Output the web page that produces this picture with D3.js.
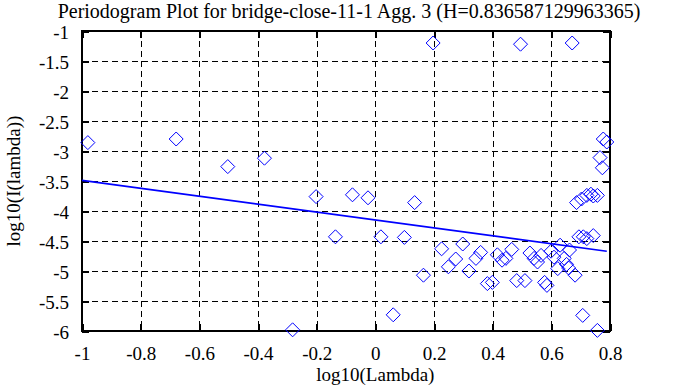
<!DOCTYPE html>
<html>
<head>
<meta charset="utf-8">
<script src="https://cdn.jsdelivr.net/npm/d3@7"></script>
<style>
  body { margin: 0; background: #fff; }
  svg { display: block; }
  .grid line { stroke: #000; stroke-width: 1; stroke-dasharray: 6,4; shape-rendering: crispEdges; }
  .axis path { display: none; }
  .axis line { stroke: #000; stroke-width: 2; shape-rendering: crispEdges; }
</style>
</head>
<body>
<svg id="chart" width="688" height="387"></svg>
<script>
// periodogram points: log10(lambda) vs log10(I(lambda))
const logLambda = [
  -0.980, -0.679, -0.503, -0.378, -0.282, -0.202, -0.136, -0.078, -0.025, 0.019,
  0.061, 0.099, 0.134, 0.164, 0.197, 0.226, 0.249, 0.274, 0.298, 0.319,
  0.343, 0.359, 0.382, 0.399, 0.416, 0.432, 0.445, 0.465, 0.482, 0.495,
  0.510, 0.527, 0.541, 0.553, 0.565, 0.577, 0.585, 0.599, 0.609, 0.622,
  0.630, 0.644, 0.652, 0.659, 0.662, 0.671, 0.681, 0.686, 0.694, 0.703,
  0.707, 0.709, 0.721, 0.721, 0.735, 0.743, 0.743, 0.757, 0.757, 0.766,
  0.774, 0.777, 0.789
];
const logPower = [
  -2.86, -2.80, -3.26, -3.12, -5.98, -3.76, -4.43, -3.73, -3.78, -4.43,
  -5.73, -4.44, -3.86, -5.07, -1.20, -4.63, -4.93, -4.80, -4.55, -5.00,
  -4.79, -4.69, -5.21, -5.19, -4.73, -4.82, -4.79, -4.64, -5.16, -1.22,
  -5.16, -4.70, -4.79, -4.85, -4.74, -5.19, -5.24, -4.67, -4.77, -4.96,
  -4.57, -4.79, -4.89, -4.95, -4.65, -1.20, -5.07, -3.86, -4.43, -3.80,
  -5.74, -4.43, -3.74, -4.46, -3.72, -3.75, -4.41, -3.74, -5.99, -3.11,
  -3.28, -2.80, -2.85
];
// least squares line (slope = 1 - 2H)
const fitX = [-1, 0.789];
const fitY = [-3.49, -4.67];

const xTicks = [-1, -0.8, -0.6, -0.4, -0.2, 0, 0.2, 0.4, 0.6, 0.8];
const yTicks = [-1, -1.5, -2, -2.5, -3, -3.5, -4, -4.5, -5, -5.5, -6];

const titleText = "Periodogram Plot for bridge-close-11-1 Agg. 3 (H=0.836587129963365)";
const xLabel = "log10(Lambda)";
const yLabel = "log10(I(lambda))";

const FONT = "'Liberation Serif', 'Times New Roman', Times, serif";
const margin = { left: 82, right: 78, top: 31, bottom: 56 };
const width = 688, height = 387;
const svg = d3.select("#chart").attr("font-family", FONT);

const x = d3.scaleLinear().domain([-1, 0.8]).range([margin.left, width - margin.right]);
const y = d3.scaleLinear().domain([-6, -1]).range([height - margin.bottom, margin.top]);

// dashed grid
const grid = svg.append("g").attr("class", "grid");
grid.selectAll(".gx").data(xTicks.slice(1, -1)).enter().append("line")
    .attr("x1", d => Math.round(x(d)) + 0.5).attr("x2", d => Math.round(x(d)) + 0.5)
    .attr("y1", y(-1)).attr("y2", y(-6));
grid.selectAll(".gy").data(yTicks.slice(1, -1)).enter().append("line")
    .attr("x1", x(-1)).attr("x2", x(0.8))
    .attr("y1", d => Math.round(y(d)) + 0.5).attr("y2", d => Math.round(y(d)) + 0.5);

// axes with inward ticks, mirrored on top and right
const fmt = d => String(d);
const styleAxis = g => g.attr("font-family", FONT).attr("font-size", 19)
    .selectAll("text").attr("fill", "#000");

svg.append("g").attr("class", "axis")
    .attr("transform", `translate(0, ${y(-6)})`)
    .call(d3.axisBottom(x).tickValues(xTicks).tickFormat(fmt).tickSizeInner(-7).tickSizeOuter(0).tickPadding(16))
    .call(styleAxis);
svg.append("g").attr("class", "axis")
    .attr("transform", `translate(0, ${y(-1)})`)
    .call(d3.axisTop(x).tickValues(xTicks).tickFormat("").tickSizeInner(-7).tickSizeOuter(0));
svg.append("g").attr("class", "axis")
    .attr("transform", `translate(${x(-1)}, 0)`)
    .call(d3.axisLeft(y).tickValues(yTicks).tickFormat(fmt).tickSizeInner(-7).tickSizeOuter(0).tickPadding(13))
    .call(styleAxis)
    .selectAll("text").attr("dy", "0.4em");
svg.append("g").attr("class", "axis")
    .attr("transform", `translate(${x(0.8)}, 0)`)
    .call(d3.axisRight(y).tickValues(yTicks).tickFormat("").tickSizeInner(-7).tickSizeOuter(0));

// border
svg.append("rect")
    .attr("x", x(-1)).attr("y", y(-1))
    .attr("width", x(0.8) - x(-1)).attr("height", y(-6) - y(-1))
    .attr("fill", "none").attr("stroke", "#000").attr("stroke-width", 2);

// fit line
svg.append("path")
    .datum(d3.zip(fitX, fitY))
    .attr("d", d3.line().x(d => x(d[0])).y(d => y(d[1])))
    .attr("fill", "none").attr("stroke", "#0000ff").attr("stroke-width", 1.6);

// diamonds
const r = 7;
svg.append("g").selectAll("path")
    .data(d3.zip(logLambda, logPower)).enter().append("path")
    .attr("transform", d => `translate(${x(d[0])}, ${y(d[1])})`)
    .attr("d", `M0,${-r}L${r},0L0,${r}L${-r},0Z`)
    .attr("fill", "none").attr("stroke", "#0000ff").attr("stroke-width", 1);

// texts
svg.append("text").attr("x", 349).attr("y", 18).attr("text-anchor", "middle")
    .attr("font-size", 20).text(titleText);
svg.append("text").attr("x", x(0)).attr("y", 381).attr("text-anchor", "middle")
    .attr("font-size", 19).text(xLabel);
svg.append("text").attr("transform", `translate(20, ${y(-3.5)}) rotate(-90)`)
    .attr("text-anchor", "middle").attr("font-size", 19).text(yLabel);
</script>
</body>
</html>
